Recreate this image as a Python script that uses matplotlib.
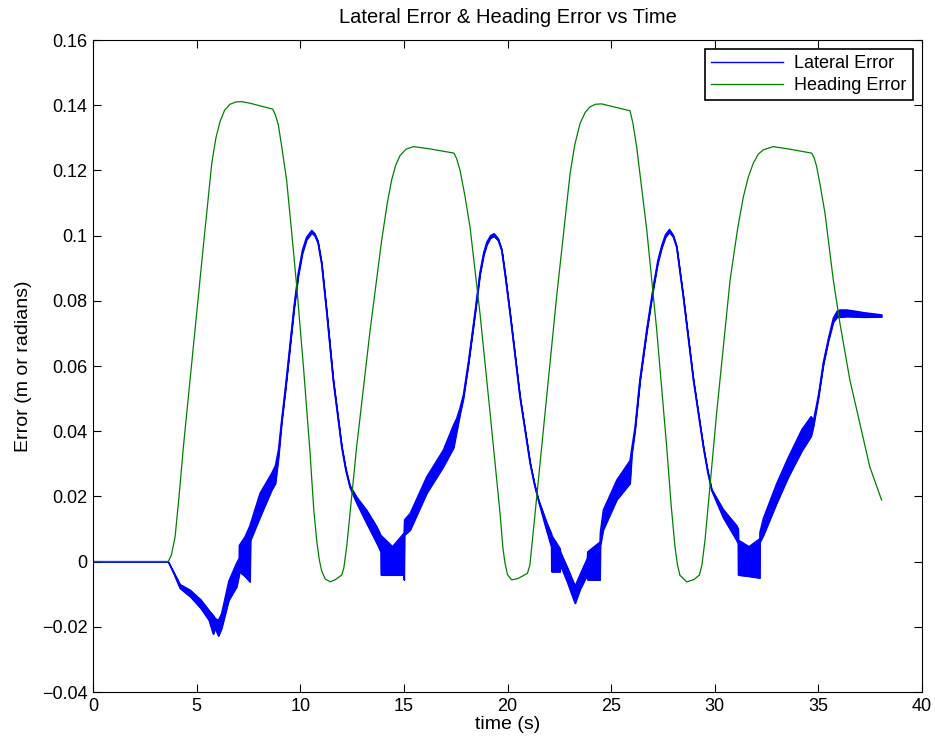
import numpy as np
import matplotlib.pyplot as plt
from matplotlib.ticker import FuncFormatter

# heading error (radians)
head_t = [0.0, 3.63, 3.78, 3.96, 4.15, 4.36, 4.84, 5.32, 5.55, 5.73, 5.93, 6.13, 6.35, 6.61,
          6.9, 7.17, 7.58, 8.67, 8.80, 8.94, 9.1, 9.34, 9.6, 9.83, 10.15, 10.47, 10.65,
          10.79, 10.92, 11.03, 11.2, 11.44, 11.7, 12.0, 12.1, 12.24, 12.45, 12.72, 13.37,
          13.93, 14.2, 14.41, 14.6, 14.81, 15.1, 15.46, 16.26, 17.42, 17.55, 17.71, 17.95,
          18.19, 18.67, 19.16, 19.64, 19.78, 19.88, 20.0, 20.2, 20.5, 20.96, 21.08, 21.25,
          21.73, 22.37, 23.02, 23.25, 23.5, 23.75, 23.98, 24.25, 24.54, 25.91, 26.05, 26.23,
          26.72, 27.2, 27.68, 27.9, 28.08, 28.2, 28.32, 28.65, 29.0, 29.26, 29.38, 29.53,
          30.09, 30.74, 31.1, 31.38, 31.62, 31.86, 32.1, 32.34, 32.82, 33.63, 34.68, 34.8,
          34.92, 35.1, 35.32, 35.72, 36.04, 36.52, 37.0, 37.48, 38.05]
head_err = [0.0, 0.0, 0.0020, 0.0076, 0.0200, 0.0352, 0.0659, 0.0966, 0.1110, 0.1222, 0.1300,
            0.1350, 0.1385, 0.1403, 0.1410, 0.1411, 0.1406, 0.1388, 0.1370, 0.1340, 0.1275,
            0.1171, 0.1000, 0.0843, 0.0600, 0.0335, 0.0160, 0.0066, 0.0005, -0.0028, -0.0053,
            -0.0062, -0.0055, -0.0041, -0.0020, 0.0046, 0.0180, 0.0352, 0.0710, 0.0987, 0.1100,
            0.1171, 0.1215, 0.1245, 0.1265, 0.1273, 0.1266, 0.1253, 0.1235, 0.1200, 0.1120,
            0.1027, 0.0762, 0.0455, 0.0148, 0.0040, -0.0005, -0.0040, -0.0056, -0.0052,
            -0.0036, -0.0010, 0.0097, 0.0404, 0.0813, 0.1191, 0.1280, 0.1344, 0.1378, 0.1395,
            0.1403, 0.1404, 0.1383, 0.1345, 0.1273, 0.1017, 0.0710, 0.0352, 0.0170, 0.0046,
            -0.0010, -0.0042, -0.0062, -0.0055, -0.0041, -0.0010, 0.0066, 0.0455, 0.0864,
            0.1020, 0.1119, 0.1180, 0.1222, 0.1250, 0.1263, 0.1273, 0.1265, 0.1253, 0.1238,
            0.1211, 0.1150, 0.1068, 0.0864, 0.0731, 0.0557, 0.0424, 0.0291, 0.0189]

# lateral error (m): lower / upper envelope of the chattering trace
lat_t = [0.0, 3.63, 3.9, 4.2, 4.7, 5.2, 5.6, 5.8, 5.9, 6.05, 6.2, 6.55, 6.93, 7.05, 7.06,
         7.33, 7.57, 7.60, 8.06, 8.62, 8.80, 8.95, 9.1, 9.3, 9.5, 9.7, 9.9, 10.1, 10.3,
         10.55, 10.7, 10.85, 11.03, 11.28, 11.59, 12.0, 12.2, 12.4, 12.72, 13.2, 13.69,
         13.89, 13.90, 14.45, 15.00, 15.01, 15.03, 15.3, 16.1, 16.9, 17.4, 17.55, 17.7,
         17.87, 18.11, 18.43, 18.67, 18.85, 19.0, 19.18, 19.35, 19.55, 19.72, 19.9, 20.12,
         20.6, 21.09, 21.3, 21.49, 21.89, 22.12, 22.13, 22.53, 22.55, 22.9, 23.26, 23.5,
         23.85, 23.87, 24.46, 24.48, 24.62, 25.27, 25.91, 26.0, 26.15, 26.39, 26.72, 27.04,
         27.25, 27.44, 27.62, 27.81, 28.0, 28.16, 28.48, 28.97, 29.45, 29.65, 29.85, 30.41,
         31.06, 31.13, 31.14, 31.65, 32.17, 32.18, 32.34, 32.99, 33.55, 34.2, 34.65, 34.76,
         35.0, 35.24, 35.48, 35.72, 35.9, 36.04, 36.37, 36.8, 37.17, 38.05]
lat_low = [0.0, 0.0, -0.0037, -0.0082, -0.0108, -0.0143, -0.0180, -0.0222, -0.0205, -0.0228,
           -0.0205, -0.0118, -0.0077, -0.0040, -0.0031, -0.0045, -0.0062, 0.0066, 0.0137,
           0.0220, 0.0240, 0.0320, 0.0425, 0.0535, 0.0655, 0.0775, 0.0875, 0.0945, 0.0987,
           0.1008, 0.1000, 0.0978, 0.0912, 0.0759, 0.0554, 0.0349, 0.0278, 0.0227, 0.0180,
           0.0118, 0.0057, 0.0030, -0.0041, -0.0041, -0.0041, -0.0056, 0.0082, 0.0097,
           0.0210, 0.0291, 0.0350, 0.0400, 0.0450, 0.0500, 0.0604, 0.0758, 0.0880, 0.0940,
           0.0972, 0.0993, 0.0998, 0.0985, 0.0954, 0.0870, 0.0760, 0.0504, 0.0300, 0.0235,
           0.0187, 0.0095, 0.0045, -0.0031, -0.0031, -0.0010, -0.0065, -0.0128, -0.0085,
           -0.0040, -0.0056, -0.0056, 0.0050, 0.0098, 0.0190, 0.0240, 0.0330, 0.0400, 0.0553,
           0.0706, 0.0839, 0.0915, 0.0962, 0.0995, 0.1011, 0.0995, 0.0964, 0.0811, 0.0555,
           0.0350, 0.0277, 0.0218, 0.0135, 0.0065, 0.0055, -0.0041, -0.0045, -0.0050, 0.0060,
           0.0080, 0.0180, 0.0260, 0.0340, 0.0385, 0.0415, 0.0502, 0.0604, 0.0676, 0.0735,
           0.0750, 0.0750, 0.0752, 0.0751, 0.0750, 0.0751]
lat_high = [0.0, 0.0, -0.0033, -0.0070, -0.0088, -0.0117, -0.0150, -0.0165, -0.0175, -0.0180,
            -0.0160, -0.0060, -0.0004, 0.0010, 0.0050, 0.0076, 0.0110, 0.0117, 0.0210,
            0.0271, 0.0295, 0.0345, 0.0435, 0.0545, 0.0665, 0.0785, 0.0885, 0.0955, 0.0995,
            0.1016, 0.1006, 0.0984, 0.0918, 0.0765, 0.0560, 0.0355, 0.0284, 0.0233, 0.0198,
            0.0158, 0.0107, 0.0080, 0.0080, 0.0046, 0.0087, 0.0090, 0.0128, 0.0148, 0.0260,
            0.0342, 0.0420, 0.0440, 0.0470, 0.0512, 0.0612, 0.0766, 0.0888, 0.0948, 0.0980,
            0.1000, 0.1006, 0.0991, 0.0958, 0.0876, 0.0764, 0.0508, 0.0304, 0.0240, 0.0191,
            0.0120, 0.0085, 0.0080, 0.0040, 0.0030, -0.0020, -0.0075, -0.0040, 0.0010, 0.0030,
            0.0060, 0.0090, 0.0158, 0.0250, 0.0310, 0.0350, 0.0412, 0.0561, 0.0714, 0.0847,
            0.0923, 0.0970, 0.1003, 0.1019, 0.1001, 0.0968, 0.0815, 0.0559, 0.0354, 0.0282,
            0.0222, 0.0160, 0.0110, 0.0100, 0.0066, 0.0046, 0.0070, 0.0090, 0.0132, 0.0240,
            0.0320, 0.0405, 0.0445, 0.0433, 0.0510, 0.0612, 0.0684, 0.0747, 0.0768, 0.0772,
            0.0772, 0.0768, 0.0764, 0.0757]

x_ticks = [0, 5, 10, 15, 20, 25, 30, 35, 40]
y_ticks = [-0.04, -0.02, 0, 0.02, 0.04, 0.06, 0.08, 0.1, 0.12, 0.14, 0.16]

plt.rcParams['font.family'] = ['Liberation Sans', 'DejaVu Sans']

fig = plt.figure(figsize=(9.35, 7.45), dpi=100, facecolor='white')
ax = fig.add_axes([0.0995, 0.0711, 0.8866, 0.8752])

lo = np.array(lat_low)
hi = np.array(lat_high)
ax.fill_between(lat_t, lo, hi, color='blue', lw=0.8)
ax.plot(lat_t, lo, color='blue', lw=1.0)
ax.plot(lat_t, hi, color='blue', lw=1.0, label='Lateral Error')
ax.plot(head_t, head_err, color=(0, 0.5, 0), lw=0.9, label='Heading Error')

ax.set_xlim(0, 40)
ax.set_ylim(-0.04, 0.16)
ax.set_xticks(x_ticks)
ax.set_yticks(y_ticks)
ax.yaxis.set_major_formatter(FuncFormatter(lambda v, p: '%g' % v if v >= 0 else '\u2212%g' % -v))
ax.tick_params(direction='in', length=6, width=0.8, top=True, right=True, labelsize=13, pad=4)
for s in ax.spines.values():
    s.set_linewidth(0.8)

ax.set_title('Lateral Error & Heading Error vs Time', fontsize=14.5, pad=12)
ax.set_xlabel('time (s)', fontsize=14, labelpad=1)
ax.set_ylabel('Error (m or radians)', fontsize=14, labelpad=7)

leg = ax.legend(loc='upper right', fontsize=13, handlelength=4.0, fancybox=False,
                framealpha=1, edgecolor='black', borderpad=0.35, labelspacing=0.25,
                borderaxespad=0.5, handletextpad=0.6)
leg.get_frame().set_linewidth(1.2)

plt.savefig('out.png', dpi=100, facecolor='white')
